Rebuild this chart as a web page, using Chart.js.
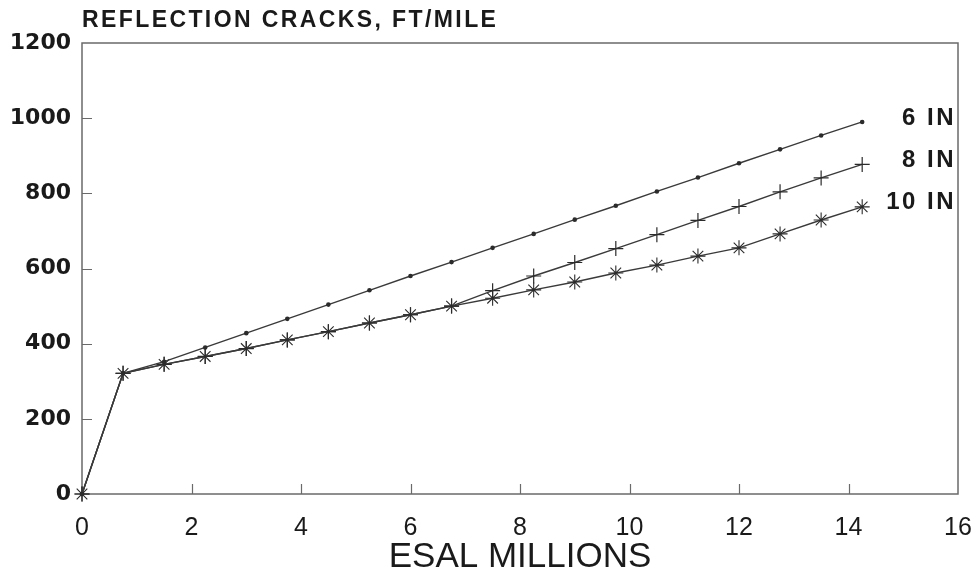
<!DOCTYPE html>
<html>
<head>
<meta charset="utf-8">
<script src="https://cdn.jsdelivr.net/npm/chart.js@4.4.1/dist/chart.umd.min.js"></script>
<style>
  html, body { margin: 0; padding: 0; background: #fff; }
  #wrap { width: 974px; height: 578px; position: relative; }
</style>
</head>
<body>
<div id="wrap"><canvas id="c" width="974" height="578"></canvas></div>
<script>
// ESAL, millions
const esal = [0, 0.75, 1.5, 2.25, 3, 3.75, 4.5, 5.25, 6, 6.75, 7.5, 8.25, 9, 9.75, 10.5, 11.25, 12, 12.75, 13.5, 14.25];
// Reflection cracks, ft/mile, by overlay thickness
const cracks6in  = [0, 321, 352, 390, 428, 466, 504, 542, 580, 617, 655, 692, 730, 767, 805, 842, 880, 917, 954, 990];
const cracks8in  = [0, 321, 345, 366, 387, 410, 432, 455, 477, 500, 541, 580, 616, 653, 690, 728, 765, 804, 841, 877];
const cracks10in = [0, 321, 345, 366, 387, 410, 432, 455, 477, 500, 521, 543, 564, 588, 609, 633, 655, 692, 729, 764];
const seriesNames = ['6 IN', '8 IN', '10 IN'];
const xTicks = [0, 2, 4, 6, 8, 10, 12, 14, 16];
const yTicks = [0, 200, 400, 600, 800, 1000, 1200];
const chartTitle = 'REFLECTION CRACKS, FT/MILE';
const xTitle = 'ESAL MILLIONS';

const INK = '#2b2b2b';
const FRAME = '#6a6a6a';

function pts(ys) { return esal.map((x, i) => ({ x: x, y: ys[i] })); }

// frame box and inward tick marks
const framePlugin = {
  id: 'frame',
  beforeDatasetsDraw(chart) {
    const { ctx, chartArea: a, scales } = chart;
    ctx.save();
    ctx.strokeStyle = FRAME;
    ctx.lineWidth = 1.5;
    ctx.strokeRect(a.left, a.top, a.right - a.left, a.bottom - a.top);
    ctx.lineWidth = 1.2;
    ctx.beginPath();
    yTicks.slice(1, -1).forEach(v => {
      const y = Math.round(scales.y.getPixelForValue(v)) + 0.5;
      ctx.moveTo(a.left, y); ctx.lineTo(a.left + 10, y);
    });
    xTicks.slice(1, -1).forEach(v => {
      const x = Math.round(scales.x.getPixelForValue(v)) + 0.5;
      ctx.moveTo(x, a.bottom); ctx.lineTo(x, a.bottom - 10);
    });
    ctx.stroke();
    ctx.restore();
  }
};

// chart heading and end-of-line series names
const textPlugin = {
  id: 'texts',
  afterDatasetsDraw(chart) {
    const { ctx, chartArea: a } = chart;
    ctx.save();
    ctx.fillStyle = '#1a1a1a';
    ctx.font = 'bold 23px "Liberation Sans"';
    ctx.letterSpacing = '2.4px';
    ctx.textAlign = 'left';
    ctx.textBaseline = 'middle';
    ctx.fillText(chartTitle, a.left, 21);

    ctx.font = 'bold 24px "Liberation Sans"';
    ctx.letterSpacing = '2.5px';
    ctx.textAlign = 'right';
    chart.data.datasets.forEach((ds, i) => {
      const meta = chart.getDatasetMeta(i);
      const last = meta.data[meta.data.length - 1];
      ctx.fillText(ds.label, a.right - 2, last.y - 4);
    });
    ctx.restore();
  }
};

const lineStyle = {
  borderColor: '#3a3a3a',
  borderWidth: 1.4,
  pointBorderColor: INK,
  pointBackgroundColor: INK,
  tension: 0,
  fill: false,
  showLine: true,
  clip: false
};

new Chart(document.getElementById('c'), {
  type: 'scatter',
  data: {
    datasets: [
      Object.assign({ label: seriesNames[0], data: pts(cracks6in), pointStyle: 'circle', pointRadius: 2.3, pointBorderWidth: 0 }, lineStyle),
      Object.assign({ label: seriesNames[1], data: pts(cracks8in), pointStyle: 'cross', pointRadius: 7.5, pointBorderWidth: 1.2 }, lineStyle),
      Object.assign({ label: seriesNames[2], data: pts(cracks10in), pointStyle: 'star', pointRadius: 7.5, pointBorderWidth: 1.1 }, lineStyle)
    ]
  },
  options: {
    responsive: false,
    animation: false,
    events: [],
    layout: { padding: { top: 43, right: 16, left: 0, bottom: 0 } },
    plugins: { legend: { display: false }, tooltip: { enabled: false }, title: { display: false } },
    scales: {
      x: {
        type: 'linear', min: 0, max: 16,
        afterBuildTicks: s => { s.ticks = xTicks.map(v => ({ value: v })); },
        afterFit: s => { s.height = 84; s.paddingLeft = 0; s.paddingRight = 0; },
        grid: { display: false, drawTicks: false },
        border: { display: false },
        ticks: { color: '#1a1a1a', padding: 19, callback: v => String(v), font: { family: '"Liberation Sans"', size: 25 } },
        title: { display: true, text: xTitle, color: '#1a1a1a', padding: { top: 0, bottom: 0 }, font: { family: '"Liberation Sans"', size: 35 } }
      },
      y: {
        type: 'linear', min: 0, max: 1200,
        afterBuildTicks: s => { s.ticks = yTicks.map(v => ({ value: v })); },
        afterFit: s => { s.width = 82; s.paddingTop = 0; s.paddingBottom = 0; },
        grid: { display: false, drawTicks: false },
        border: { display: false },
        ticks: { color: '#1a1a1a', padding: 11, callback: v => String(v), font: { family: '"DejaVu Sans"', weight: 'bold', size: 22 } }
      }
    }
  },
  plugins: [framePlugin, textPlugin]
});
</script>
</body>
</html>
